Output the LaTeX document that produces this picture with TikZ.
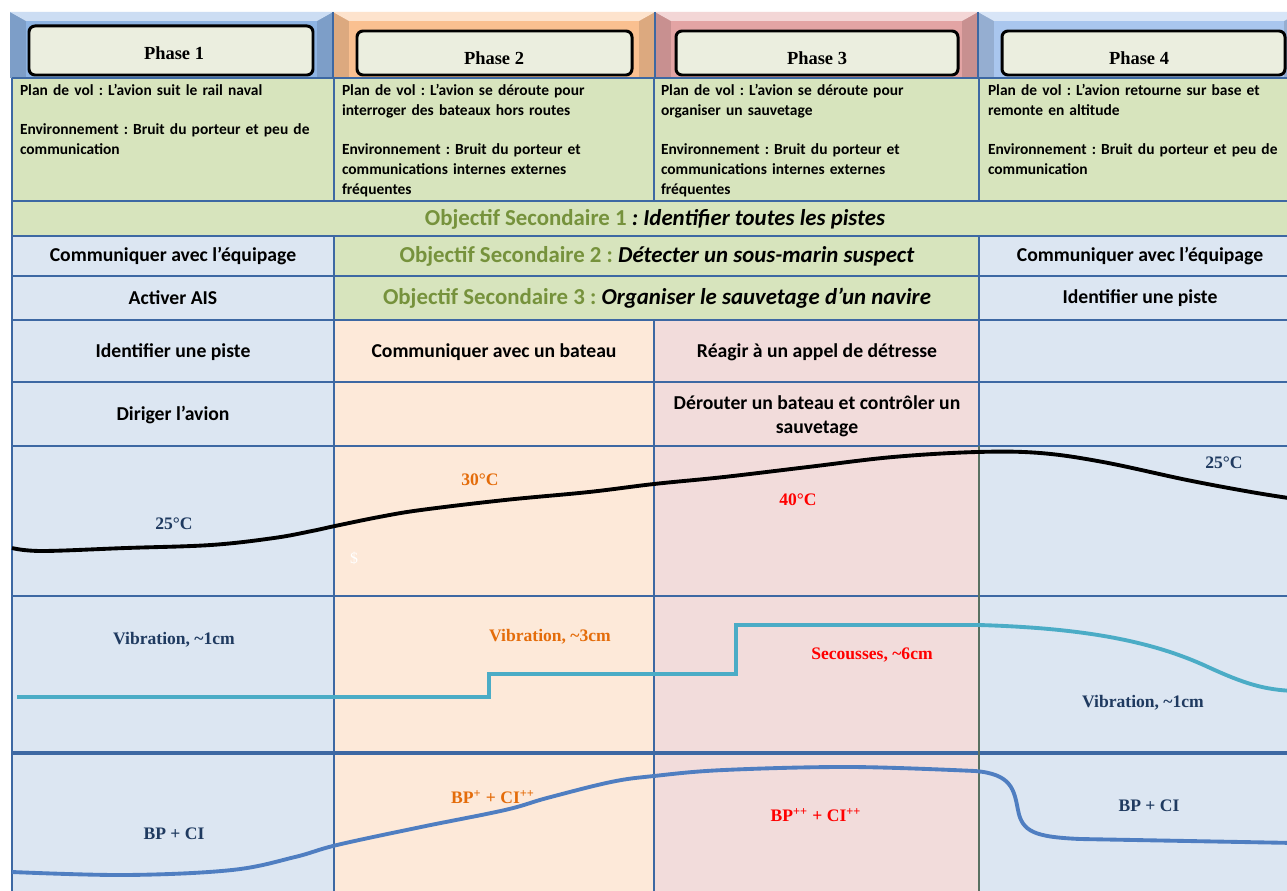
\documentclass[tikz,border=0pt]{standalone}
\usepackage{fontspec}
\setmainfont{Carlito}
\newfontfamily\chartfont{Liberation Serif}
\usepackage{tikz}
\usetikzlibrary{calc}
\frenchspacing
\xdef\LWG{1.6pt}
\xdef\LWT{2.3pt}
\xdef\LWC{2.2pt}
\definecolor{bandA}{HTML}{8EB4E3}
\definecolor{bandB}{HTML}{FAC090}
\definecolor{bandC}{HTML}{E3A4A4}
\definecolor{bandD}{HTML}{A9C6EE}
\definecolor{boxcream}{HTML}{EBEEDF}
\definecolor{cellgreen}{HTML}{D7E4BD}
\definecolor{cellblue}{HTML}{DCE6F2}
\definecolor{cellorange}{HTML}{FDE9D9}
\definecolor{cellpink}{HTML}{F2DCDB}
\definecolor{gridblue}{HTML}{3D68A3}
\definecolor{objgreen}{HTML}{76923C}
\definecolor{navytext}{HTML}{1F3A60}
\definecolor{warmorange}{HTML}{E46C0A}
\definecolor{hotred}{HTML}{FF0000}
\definecolor{vibteal}{HTML}{4BACC6}
\definecolor{bpblue}{HTML}{4F7EC1}
\tikzset{
  grid/.style={line width=\LWG, gridblue},
  phasebox/.style={draw=black, line width=1.7pt, fill=boxcream, rounded corners=1.2mm},
  phaselabel/.style={font=\chartfont\bfseries\fontsize{10.5}{12}\selectfont},
  plantext/.style={anchor=north west, align=left, text width=6.3cm, font=\bfseries\fontsize{8.8}{11.3}\selectfont},
  celltext/.style={align=center, font=\bfseries\fontsize{11.2}{13.5}\selectfont},
  objtext/.style={font=\bfseries\fontsize{13}{15}\selectfont},
  chartlabel/.style={font=\chartfont\bfseries\fontsize{10}{12}\selectfont}
}
\begin{document}
\begin{tikzpicture}[x=0.02cm,y=-0.02cm,inner sep=0,outer sep=0]
\useasboundingbox (0,0) rectangle (1287,891);
\clip (0,0) rectangle (1287,891);
\fill[white] (0,0) rectangle (1287,891);
% bandeau des phases
\foreach \xa/\xb/\col in {10/333/bandA, 333/655/bandB, 655/978/bandC, 978/1300/bandD}{
  \fill[\col!88!black] (\xa,12) rectangle (\xb,78);
  \fill[\col!45!white] (\xa,12)--(\xb,12)--(\xb-16,21)--(\xa+16,21)--cycle;
  \fill[\col] (\xa+16,21) rectangle (\xb-16,78);
}
\draw[grid, line width=1pt] (333,12) -- (333,78) (655,12) -- (655,78) (978,12) -- (978,78);
\draw[phasebox] (29,26) rectangle (313,75);
\draw[phasebox] (357,31) rectangle (632,75);
\draw[phasebox] (676,31) rectangle (958,75);
\draw[phasebox] (1002,31) rectangle (1285,75);
\node[phaselabel] (phaseA) at (174,53) {Phase 1};
\node[phaselabel] (phaseB) at (494,58) {Phase 2};
\node[phaselabel] (phaseC) at (817,58) {Phase 3};
\node[phaselabel] (phaseD) at (1139,58) {Phase 4};
% cellules
\fill[cellgreen] (12,78) rectangle (1300,236);
\fill[cellblue] (12,236) rectangle (334,891);
\fill[cellgreen] (334,236) rectangle (979,320);
\fill[cellblue] (979,236) rectangle (1300,891);
\fill[cellorange] (334,320) rectangle (654,891);
\fill[cellpink] (654,320) rectangle (979,891);
% grille
\foreach \yy in {78,201,236,276,320,382,446,596}{
  \draw[grid] (12,\yy) -- (1300,\yy);
}
\draw[grid, line width=\LWT] (12,753) -- (1300,753);
\draw[grid] (12,78) -- (12,891);
\draw[grid] (334,78) -- (334,201) (334,236) -- (334,891);
\draw[grid] (654,78) -- (654,201) (654,320) -- (654,891);
\draw[grid] (979,78) -- (979,201) (979,236) -- (979,446);
\draw[line width=0.9pt, gridblue!60!olive] (979,446) -- (979,891);
% plans de vol
\node[plantext] (planA) at (20,84) {Plan de vol : L’avion suit le rail naval\\[\baselineskip]Environnement : Bruit du porteur et peu de\\communication};
\node[plantext] (planB) at (342,84) {Plan de vol : L’avion se déroute pour\\interroger des bateaux hors routes\\[\baselineskip]Environnement : Bruit du porteur et\\communications internes externes\\fréquentes};
\node[plantext] (planC) at (661,84) {Plan de vol : L’avion se déroute pour\\organiser un sauvetage\\[\baselineskip]Environnement : Bruit du porteur et\\communications internes externes\\fréquentes};
\node[plantext] (planD) at (988,84) {Plan de vol : L’avion retourne sur base et\\remonte en altitude\\[\baselineskip]Environnement : Bruit du porteur et peu de\\communication};
% objectifs
\node[objtext] (objA) at (655,219) {{\color{objgreen}Objectif Secondaire 1} \itshape: Identifier toutes les pistes};
\node[objtext] (objB) at (657,256) {{\color{objgreen}Objectif Secondaire 2 :} \itshape Détecter un sous-marin suspect};
\node[objtext] (objC) at (657,298) {{\color{objgreen}Objectif Secondaire 3 :} \itshape Organiser le sauvetage d’un navire};
% taches
\node[celltext] (tacheA) at (173,256) {Communiquer avec l’équipage};
\node[celltext] (tacheB) at (1140,256) {Communiquer avec l’équipage};
\node[celltext] (tacheC) at (173,298) {Activer AIS};
\node[celltext] (tacheD) at (1140,298) {Identifier une piste};
\node[celltext] (tacheE) at (173,352) {Identifier une piste};
\node[celltext] (tacheF) at (494,352) {Communiquer avec un bateau};
\node[celltext] (tacheG) at (817,352) {Réagir à un appel de détresse};
\node[celltext] (tacheH) at (173,415) {Diriger l’avion};
\node[celltext] (tacheI) at (817,416) {Dérouter un bateau et contrôler un\\sauvetage};
% temperature
\draw[line width=\LWC, black] plot[smooth, tension=0.6] coordinates {(12,548) (42,551) (126,548) (211,545) (274,538) (312,531) (335,526) (379,517) (421,510) (505,500) (589,492) (654,484) (724,477) (808,467) (893,457) (977,452) (1040,453) (1103,462) (1187,480) (1251,492) (1295,499)};
\node[chartlabel, navytext] (tempA) at (174,524) {25°C};
\node[chartlabel, warmorange] (tempB) at (480,480) {30°C};
\node[chartlabel, hotred] (tempC) at (798,500) {40°C};
\node[chartlabel, navytext] (tempD) at (1224,463) {25°C};
\node[chartlabel, white, font=\chartfont\fontsize{9}{10}\selectfont] (dollar) at (354,558) {\$};
% vibrations
\draw[line width=\LWC, vibteal] (17,697) -- (489,697) -- (489,674) -- (736,674) -- (736,625) -- (979,625)
  .. controls (1080,628) and (1150,640) .. (1208,667) .. controls (1245,684) and (1265,690) .. (1295,691);
\node[chartlabel, navytext] (vibA) at (174,640) {Vibration, \textasciitilde1cm};
\node[chartlabel, warmorange] (vibB) at (550,637) {Vibration, \textasciitilde3cm};
\node[chartlabel, hotred] (vibC) at (872,655) {Secousses, \textasciitilde6cm};
\node[chartlabel, navytext] (vibD) at (1143,703) {Vibration, \textasciitilde1cm};
% charge
\draw[line width=\LWC, bpblue] plot[smooth, tension=0.6] coordinates {(12,872) (126,875) (232,870) (295,857) (337,845) (421,827) (505,810) (547,798) (611,782) (654,776) (724,770) (851,767) (975,771)}
  .. controls (1012,774) and (1014,790) .. (1018,810) .. controls (1022,832) and (1035,837) .. (1080,839) -- (1295,843);
\node[chartlabel, navytext] (bpA) at (174,834) {BP + CI};
\node[chartlabel, warmorange] (bpB) at (493,797) {BP\textsuperscript{+} + CI\textsuperscript{++}};
\node[chartlabel, hotred] (bpC) at (816,815) {BP\textsuperscript{++} + CI\textsuperscript{++}};
\node[chartlabel, navytext] (bpD) at (1149,806) {BP + CI};
\end{tikzpicture}
\end{document}
